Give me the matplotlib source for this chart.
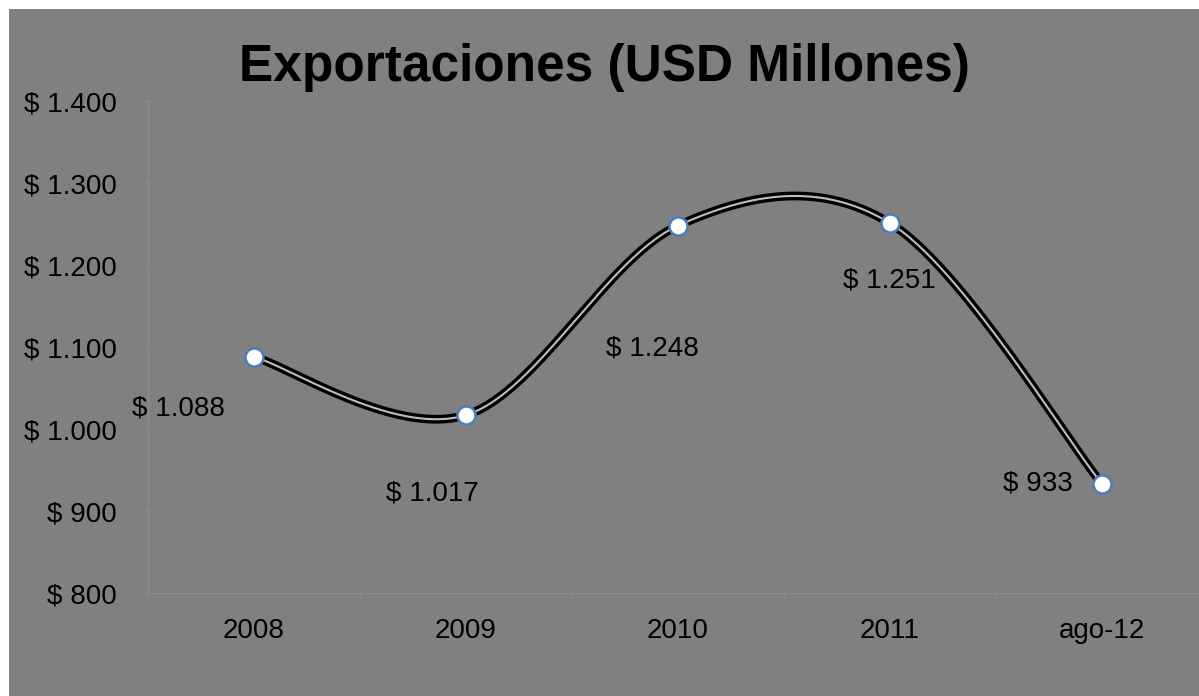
import numpy as np
import matplotlib
matplotlib.use('Agg')
import matplotlib.pyplot as plt
from matplotlib.patches import Rectangle

plt.rcParams['font.family'] = ['Liberation Sans', 'DejaVu Sans']

# datos
categorias = ['2008', '2009', '2010', '2011', 'ago-12']
exportaciones = [1088, 1017, 1248, 1251, 933]
etiquetas = ['$ 1.088', '$ 1.017', '$ 1.248', '$ 1.251', '$ 933']
y_ticks = [800, 900, 1000, 1100, 1200, 1300, 1400]
y_labels = ['$ 800', '$ 900', '$ 1.000', '$ 1.100', '$ 1.200', '$ 1.300', '$ 1.400']
# desplazamiento de etiquetas (pixeles)
offsets = [(-76, -52), (-34, -78), (-26, -123), (-1, -57), (-64, 0)]


def suavizar(xs, ys, n=60):
    # curva tipo excel (catmull-rom con bezier)
    px = np.array(xs, dtype=float)
    py = np.array(ys, dtype=float)
    px = np.concatenate([[px[0]], px, [px[-1]]])
    py = np.concatenate([[py[0]], py, [py[-1]]])
    cx, cy = [], []
    t = np.linspace(0, 1, n)
    for i in range(1, len(px) - 2):
        p0 = np.array([px[i], py[i]])
        p3 = np.array([px[i + 1], py[i + 1]])
        c1 = p0 + (np.array([px[i + 1], py[i + 1]]) - np.array([px[i - 1], py[i - 1]])) / 6
        c2 = p3 - (np.array([px[i + 2], py[i + 2]]) - np.array([px[i], py[i]])) / 6
        b = ((1 - t) ** 3)[:, None] * p0 + (3 * (1 - t) ** 2 * t)[:, None] * c1 \
            + (3 * (1 - t) * t ** 2)[:, None] * c2 + (t ** 3)[:, None] * p3
        cx.extend(b[:, 0])
        cy.extend(b[:, 1])
    return np.array(cx), np.array(cy)


fig = plt.figure(figsize=(11.99, 6.96), dpi=100, facecolor='white')
fig.patches.append(Rectangle((9 / 1199, 0), 1, 1 - 9 / 696, transform=fig.transFigure,
                             facecolor='#808080', edgecolor='none', zorder=-10))

ax = fig.add_axes([148 / 1199, 103 / 696, 1060 / 1199, 492 / 696])
ax.set_facecolor('none')

x = np.arange(len(categorias))
sx, sy = suavizar(x, exportaciones)
ax.plot(sx, sy, color='black', lw=6.3, solid_capstyle='butt', zorder=3)
ax.plot(sx, sy, color='#bdbdbd', lw=1.5, solid_capstyle='butt', zorder=4)
ax.plot(x, exportaciones, ls='none', marker='o', ms=13, mfc='white', mec='#4a7ebb',
        mew=1.8, zorder=5)

for xi, yi, txt, off in zip(x, exportaciones, etiquetas, offsets):
    ax.annotate(txt, (xi, yi), xytext=off, textcoords='offset pixels',
                ha='center', va='center', fontsize=20, color='black')

ax.set_xlim(-0.5, 4.5)
ax.set_ylim(800, 1400)
ax.set_xticks(x)
ax.set_xticklabels(categorias)
ax.set_xticks(np.arange(-0.5, 4.6, 1), minor=True)
ax.set_yticks(y_ticks)
ax.set_yticklabels(y_labels)
ax.tick_params(axis='x', which='major', length=0, pad=18, labelsize=20)
ax.tick_params(axis='x', which='minor', length=5.5, color='#8c8c8c')
ax.tick_params(axis='y', length=5.5, color='#8c8c8c', pad=17, labelsize=20)

for s in ['top', 'right']:
    ax.spines[s].set_visible(False)
for s in ['left', 'bottom']:
    ax.spines[s].set_color('#8c8c8c')
    ax.spines[s].set_linewidth(1)

fig.text(604 / 1199, 1 - 68 / 696, 'Exportaciones (USD Millones)', ha='center', va='center',
         fontsize=37, fontweight='bold', color='black')

fig.savefig('out.png', dpi=100, facecolor=fig.get_facecolor())
